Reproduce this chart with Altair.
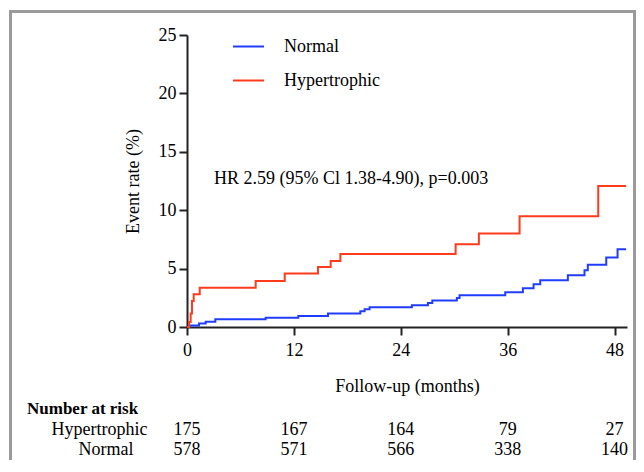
import altair as alt
import pandas as pd

FONT = "Liberation Serif"

# ---- data ----
groups = ["Normal", "Hypertrophic"]
colors = ["#1f3cff", "#ff3b1c"]

hyp_t = [0, 0.22, 0.41, 0.56, 0.75, 1.43, 7.71, 10.97, 14.71, 16.13, 17.22, 30.16, 32.77, 37.34, 46.17, 49.3]
hyp_v = [0, 0.43, 1.15, 2.23, 2.80, 3.37, 3.94, 4.57, 5.14, 5.66, 6.26, 7.09, 8.00, 9.49, 12.08, 12.08]

nor_t = [0, 0.3, 1.35, 2.1, 3.18, 8.83, 12.5, 15.83, 19.46, 19.94, 20.5, 25.25, 27.05, 27.54, 30.3, 30.6,
         35.73, 37.71, 38.91, 39.66, 42.76, 44.63, 45.0, 47.07, 48.34, 49.3]
nor_v = [0, 0.12, 0.29, 0.46, 0.66, 0.80, 0.94, 1.15, 1.35, 1.52, 1.69, 1.86, 2.06, 2.26, 2.49, 2.72,
         2.97, 3.32, 3.66, 4.00, 4.43, 4.86, 5.34, 5.94, 6.66, 6.66]

x_ticks = [0, 12, 24, 36, 48]
y_ticks = [0, 5, 10, 15, 20, 25]

risk_times = [0, 12, 24, 36, 48]
risk_hyp = [175, 167, 164, 79, 27]
risk_nor = [578, 571, 566, 338, 140]

hr_text = "HR 2.59 (95% Cl 1.38-4.90), p=0.003"
risk_title = "Number at risk"

# ---- tables ----
rows = []
for i, (t, v) in enumerate(zip(nor_t, nor_v)):
    rows.append({"group": "Normal", "t": t, "v": v, "i": i})
for i, (t, v) in enumerate(zip(hyp_t, hyp_v)):
    rows.append({"group": "Hypertrophic", "t": t, "v": v, "i": i})
curves = pd.DataFrame(rows)

risk_h = pd.DataFrame({"t": risk_times, "n": risk_hyp})
risk_n = pd.DataFrame({"t": risk_times, "n": risk_nor})

xscale = alt.Scale(domain=[0, 49.4], nice=False, zero=False)
yscale = alt.Scale(domain=[0, 25], nice=False)

axis_common = dict(
    domainColor="#222222", domainWidth=2, tickColor="#222222", tickWidth=2, tickSize=8,
    labelFont=FONT, labelFontSize=18, labelColor="black",
    titleFont=FONT, titleFontSize=18, titleFontWeight="normal", titleColor="black",
    grid=False,
)

x_enc = alt.X("t:Q", scale=xscale,
              axis=alt.Axis(values=x_ticks, title="Follow-up (months)", labelPadding=6,
                            labelFlush=False, labelOverlap=False,
                            titleY=64, titleBaseline="alphabetic", **axis_common))
y_enc = alt.Y("v:Q", scale=yscale,
              axis=alt.Axis(values=y_ticks, title="Event rate (%)", labelPadding=3,
                            titleX=-54, titleY=146, titleAlign="center", titleBaseline="middle",
                            titleAngle=270, **axis_common))

frame = alt.Chart(pd.DataFrame({"a": [0]})).mark_rect(
    fillOpacity=0, stroke="#9a9a9a", strokeWidth=3
).encode(x=alt.value(-176.5), x2=alt.value(447.5), y=alt.value(-23.5), y2=alt.value(460))

lines = alt.Chart(curves).mark_line(interpolate="step-after", strokeWidth=2).encode(
    x=x_enc,
    y=y_enc,
    color=alt.Color("group:N", scale=alt.Scale(domain=groups, range=colors),
                    legend=alt.Legend(title=None, orient="none", legendX=45, legendY=-5,
                                      symbolType="stroke", symbolSize=961, symbolStrokeWidth=2,
                                      labelFont=FONT, labelFontSize=18, labelColor="black",
                                      labelOffset=19, rowPadding=8, padding=0)),
    order="i:Q",
)

hr = alt.Chart(pd.DataFrame({"label": [hr_text]})).mark_text(
    font=FONT, fontSize=18, color="black", align="left", baseline="alphabetic"
).encode(x=alt.value(27), y=alt.value(149), text="label:N")

risk_head = alt.Chart(pd.DataFrame({"label": [risk_title]})).mark_text(
    font=FONT, fontSize=17, fontWeight="bold", color="black", align="left", baseline="alphabetic"
).encode(x=alt.value(-160), y=alt.value(378.5), text="label:N")

lab_h = alt.Chart(pd.DataFrame({"label": [groups[1]]})).mark_text(
    font=FONT, fontSize=18, color="black", align="center", baseline="alphabetic"
).encode(x=alt.value(-87.5), y=alt.value(399.5), text="label:N")

lab_n = alt.Chart(pd.DataFrame({"label": [groups[0]]})).mark_text(
    font=FONT, fontSize=18, color="black", align="center", baseline="alphabetic"
).encode(x=alt.value(-81), y=alt.value(419.5), text="label:N")

num_h = alt.Chart(risk_h).mark_text(
    font=FONT, fontSize=18, color="black", align="center", baseline="alphabetic"
).encode(x=alt.X("t:Q", scale=xscale), y=alt.value(399.5), text="n:Q")

num_n = alt.Chart(risk_n).mark_text(
    font=FONT, fontSize=18, color="black", align="center", baseline="alphabetic"
).encode(x=alt.X("t:Q", scale=xscale), y=alt.value(419.5), text="n:Q")

chart = alt.layer(frame, lines, hr, risk_head, lab_h, lab_n, num_h, num_n).properties(
    width=440, height=292,
    padding={"left": 179, "top": 27, "right": 9, "bottom": 133},
    autosize=alt.AutoSizeParams(type="none"),
    background="white",
).configure_view(strokeWidth=0)

chart.save("out.html", embed_options={"renderer": "svg", "actions": False})
